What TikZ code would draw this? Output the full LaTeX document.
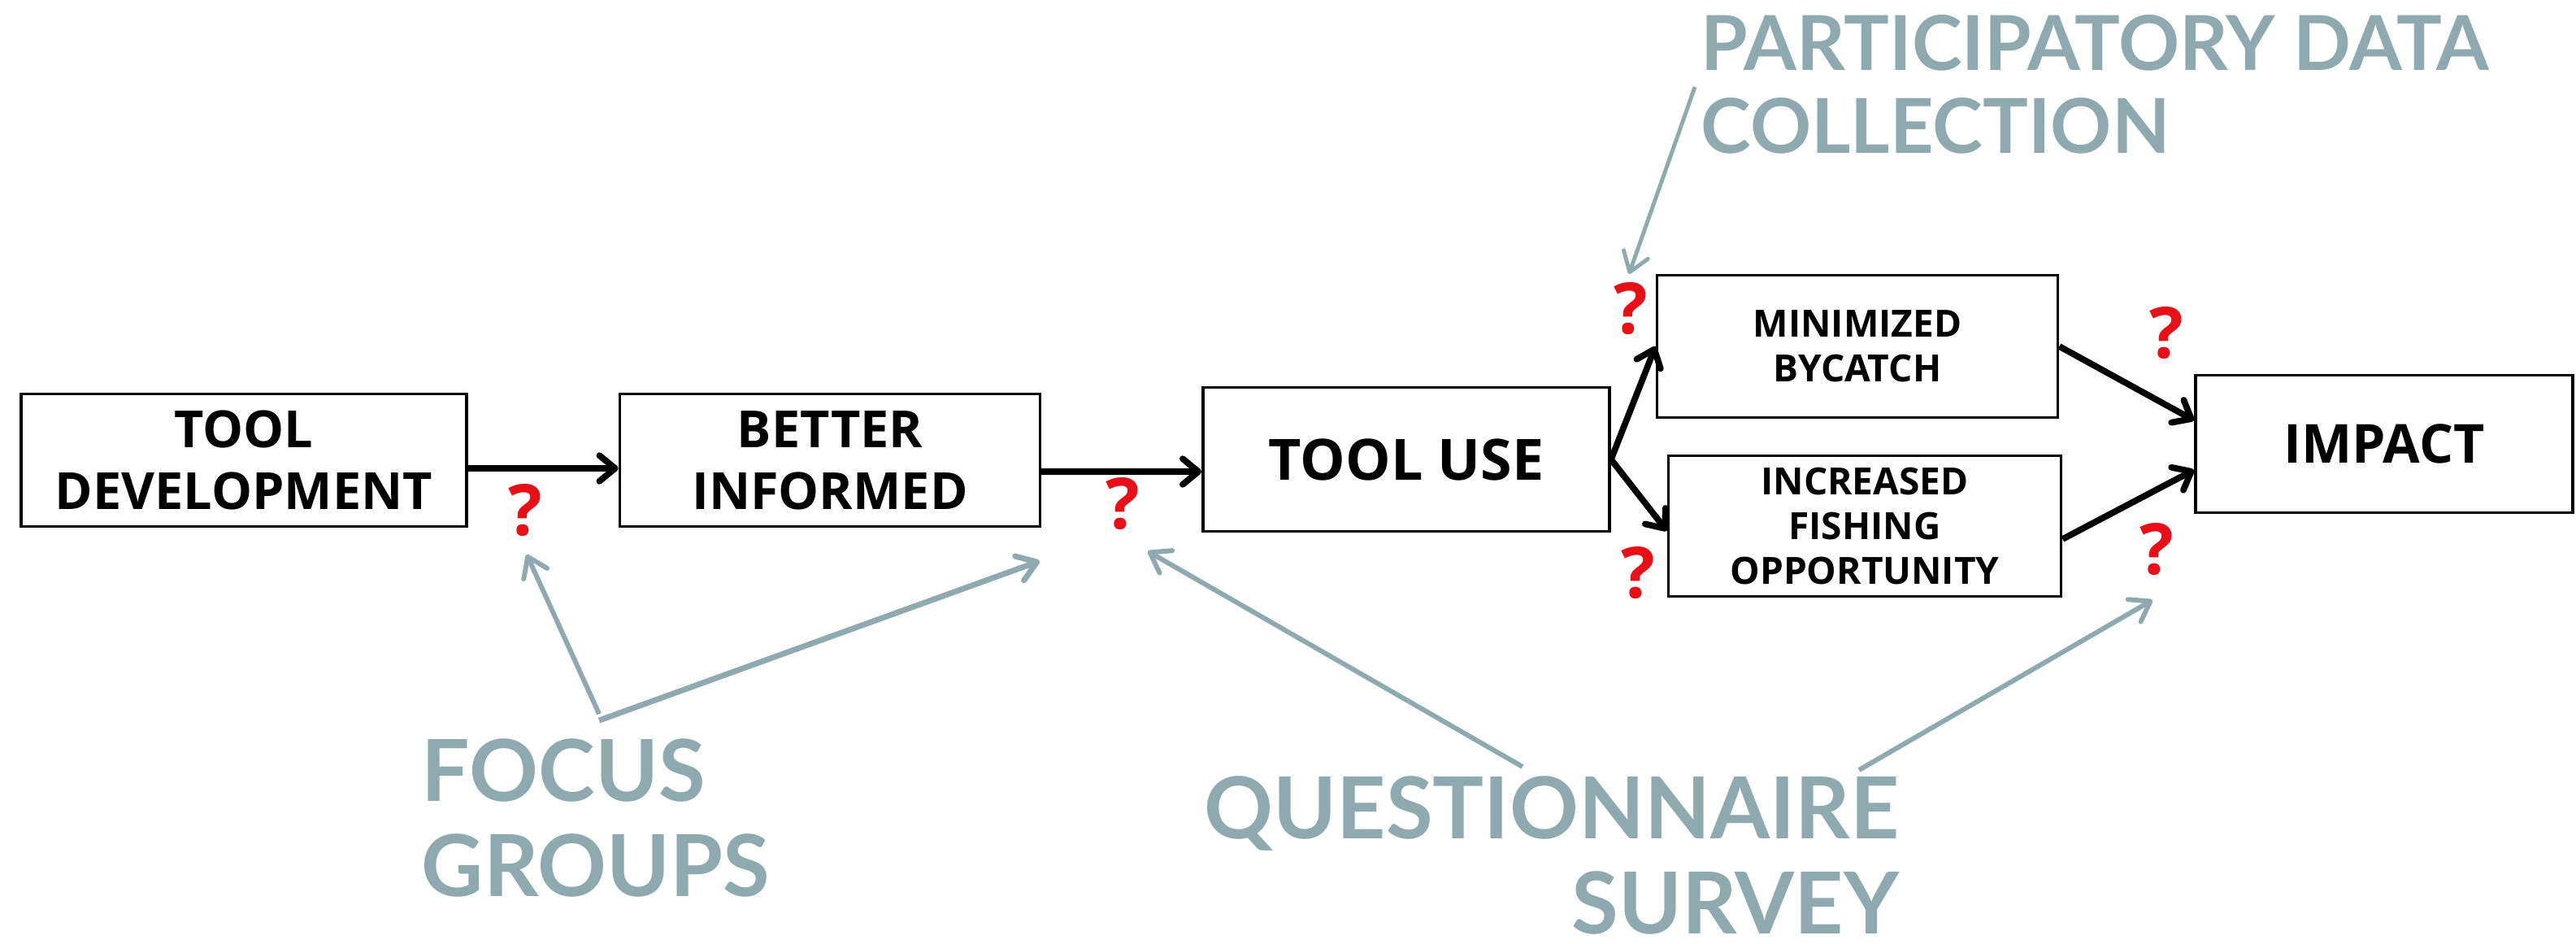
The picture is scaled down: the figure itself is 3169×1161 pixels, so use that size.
\documentclass[tikz,border=0pt]{standalone}
\usepackage{fontspec}
\setmainfont{Open Sans}
\newfontfamily\grayfont{Lato}
\usetikzlibrary{arrows.meta}
\definecolor{labgray}{RGB}{143,170,174}
\definecolor{qred}{RGB}{232,16,22}
\begin{document}
\begin{tikzpicture}[x=0.01cm,y=-0.01cm,
  box/.style={draw=black,line width=1pt,align=center,inner sep=0pt,fill=white},
  bigtxt/.style={font=\bfseries\fontsize{17.9pt}{21.6pt}\selectfont},
  smalltxt/.style={font=\bfseries\fontsize{13.1pt}{15.65pt}\selectfont},
  arr/.style={line width=2.2pt,-{Straight Barb[round,length=5.5pt,width=9pt]}},
  garr/.style={draw=labgray,line width=1.7pt,-{Straight Barb[round,length=6.5pt,width=9pt]}},
  glab/.style={text=labgray,inner sep=0pt,font=\grayfont\bfseries\fontsize{29.9pt}{33.2pt}\selectfont},
  qm/.style={text=qred,inner sep=0pt,font=\bfseries\fontsize{24.75pt}{28pt}\selectfont}]
\useasboundingbox (0,0) rectangle (3169,1161);
% boxes
\node[box,bigtxt,minimum width=5.48cm,minimum height=1.63cm] (dev) at (300,566) {TOOL\\DEVELOPMENT};
\node[box,bigtxt,minimum width=5.17cm,minimum height=1.63cm] (inf) at (1021,566) {BETTER\\INFORMED};
\node[box,font=\bfseries\fontsize{19.9pt}{24pt}\selectfont,minimum width=5.00cm,minimum height=1.77cm] (use) at (1730,565) {TOOL USE};
\node[box,smalltxt,minimum width=4.93cm,minimum height=1.75cm] (byc) at (2285,426) {MINIMIZED\\BYCATCH};
\node[box,smalltxt,minimum width=4.83cm,minimum height=1.73cm] (fish) at (2294,647) {INCREASED\\FISHING\\OPPORTUNITY};
\node[box,font=\bfseries\fontsize{18.8pt}{22pt}\selectfont,minimum width=4.64cm,minimum height=1.69cm] (imp) at (2933,546) {IMPACT};
% black arrows
\draw[arr] ([yshift=-0.1cm]dev.east) -- ([yshift=-0.1cm]inf.west);
\draw[arr] ([yshift=-0.14cm]inf.east) -- ([yshift=-0.15cm]use.west);
\draw[arr] (use.east) -- (byc.west);
\draw[arr] (use.east) -- ([yshift=-0.06cm]fish.west);
\draw[arr] (byc.east) -- ([yshift=0.29cm]imp.west);
\draw[arr] ([yshift=-0.16cm]fish.east) -- ([yshift=-0.32cm]imp.west);
% question marks
\node[qm] (q1) at (646,628) {?};
\node[qm] (q2) at (1381,620) {?};
\node[qm] (q3) at (2006,380) {?};
\node[qm] (q4) at (2015,705) {?};
\node[qm] (q5) at (2665,410) {?};
\node[qm] (q6) at (2653,676) {?};
% gray labels
\node[glab,font=\grayfont\bfseries\fontsize{26.5pt}{29pt}\selectfont,anchor=north west,align=left] (pdc) at (2092,18) {PARTICIPATORY DATA\\COLLECTION};
\node[glab,anchor=north west,align=left] (fg) at (518,908) {FOCUS\\GROUPS};
\node[glab,anchor=north east,align=right] (qs) at (2337,954) {QUESTIONNAIRE\\SURVEY};
% gray arrows
\coordinate (pdcS) at (2085,107); \coordinate (pdcT) at (2004,337);
\coordinate (fgS1) at (737,878); \coordinate (fgT1) at (648,682);
\coordinate (fgS2) at (737,886); \coordinate (fgT2) at (1279,690);
\coordinate (qsS1) at (1873,943); \coordinate (qsT1) at (1412,678);
\coordinate (qsS2) at (2287,947); \coordinate (qsT2) at (2648,738);
\draw[garr,line width=1.4pt] (pdcS) -- (pdcT);
\draw[garr] (fgS1) -- (fgT1);
\draw[garr,line width=2pt] (fgS2) -- (fgT2);
\draw[garr] (qsS1) -- (qsT1);
\draw[garr] (qsS2) -- (qsT2);
\end{tikzpicture}
\end{document}
